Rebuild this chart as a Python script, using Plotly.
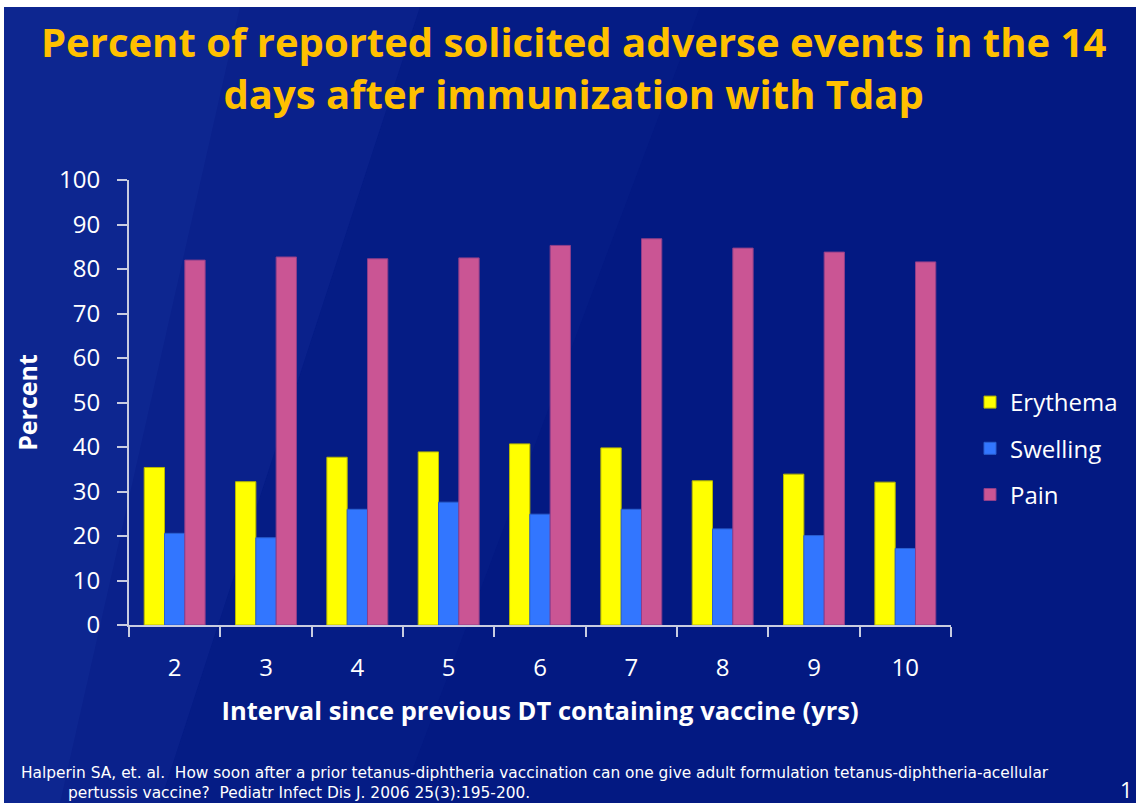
import plotly.graph_objects as go

categories = ["2", "3", "4", "5", "6", "7", "8", "9", "10"]
erythema = [35.4, 32.2, 37.7, 38.9, 40.7, 39.8, 32.4, 33.9, 32.1]
swelling = [20.6, 19.6, 26.0, 27.6, 24.9, 26.0, 21.6, 20.1, 17.2]
pain = [82.0, 82.7, 82.3, 82.5, 85.3, 86.8, 84.7, 83.8, 81.6]

series_names = ["Erythema", "Swelling", "Pain"]
series_colors = ["#FFFF00", "#3276FF", "#CA5594"]
series_lines = ["#B8B800", "#2A5FD0", "#8E3E8A"]
series_values = [erythema, swelling, pain]

W, H = 1136, 803
L, R, T, B = 129, 951, 180, 625

fig = go.Figure()
for i, (name, vals, col, lc) in enumerate(zip(series_names, series_values, series_colors, series_lines)):
    fig.add_trace(go.Bar(
        x=categories, y=vals, name=name,
        marker=dict(color=col, line=dict(color=lc, width=1)),
        legendgroup=name,
    ))

def px(x):
    return (x - L) / (R - L)

def py(y):
    return (B - y) / (B - T)

axis_col = "#C8CCE0"
font_main = "Open Sans"

shapes = [
    dict(type="path", xref="paper", yref="paper",
         path=f"M {px(4)},{py(803)} L {px(4)},{py(7)} L {px(420)},{py(7)} L {px(160)},{py(803)} Z",
         fillcolor="#2a4ab8", opacity=0.18, line=dict(width=0), layer="below"),
    dict(type="path", xref="paper", yref="paper",
         path=f"M {px(4)},{py(803)} L {px(4)},{py(7)} L {px(240)},{py(7)} L {px(60)},{py(803)} Z",
         fillcolor="#2a4ab8", opacity=0.12, line=dict(width=0), layer="below"),
    dict(type="path", xref="paper", yref="paper",
         path=f"M {px(160)},{py(803)} L {px(420)},{py(7)} L {px(700)},{py(7)} L {px(400)},{py(803)} Z",
         fillcolor="#2040b0", opacity=0.08, line=dict(width=0), layer="below"),
    dict(type="rect", xref="paper", yref="paper",
         x0=px(0), x1=px(W), y0=py(7), y1=py(0),
         fillcolor="white", line=dict(width=0), layer="above"),
    dict(type="rect", xref="paper", yref="paper",
         x0=px(0), x1=px(4), y0=py(H), y1=py(0),
         fillcolor="white", line=dict(width=0), layer="above"),
]

annotations = [
    dict(text="<b>Percent of reported solicited adverse events in the 14<br>days after immunization with Tdap</b>",
         xref="paper", yref="paper", x=px(573), y=py(12), xanchor="center", yanchor="top",
         showarrow=False, align="center",
         font=dict(family="Open Sans", size=40, color="#FFC000")),
    dict(text="Halperin SA, et. al.  How soon after a prior tetanus-diphtheria vaccination can one give adult formulation tetanus-diphtheria-acellular",
         xref="paper", yref="paper", x=px(20), y=py(783), xanchor="left", yanchor="bottom",
         showarrow=False, borderpad=0, font=dict(family="DejaVu Sans", size=15.4, color="white")),
    dict(text="pertussis vaccine?  Pediatr Infect Dis J. 2006 25(3):195-200.",
         xref="paper", yref="paper", x=px(67), y=py(783), xanchor="left", yanchor="top",
         showarrow=False, borderpad=0, font=dict(family="DejaVu Sans", size=15.4, color="white")),
    dict(text="1", xref="paper", yref="paper", x=px(1118), y=py(789), xanchor="left", yanchor="middle",
         showarrow=False, font=dict(family=font_main, size=22, color="white")),
]

fig.update_layout(
    width=W, height=H,
    margin=dict(l=L, r=W - R, t=T, b=H - B, pad=0),
    paper_bgcolor="#031982",
    plot_bgcolor="rgba(0,0,0,0)",
    barmode="group",
    bargap=0.333,
    bargroupgap=0,
    font=dict(family=font_main, color="white"),
    legend=dict(
        x=px(970), y=py(380), xanchor="left", yanchor="top",
        font=dict(family=font_main, size=24, color="white"),
        bgcolor="rgba(0,0,0,0)",
        tracegroupgap=12,
        traceorder="grouped",
    ),
    xaxis=dict(
        showgrid=False, showline=True, linecolor=axis_col, linewidth=2,
        ticks="outside", ticklen=10, tickcolor=axis_col, tickwidth=2,
        tickson="boundaries",
        tickfont=dict(family=font_main, size=24, color="white"),
        ticklabelstandoff=20,
        title=dict(text="<b>Interval since previous DT containing vaccine (yrs)</b>",
                   font=dict(family=font_main, size=25.5, color="white"), standoff=20),
    ),
    yaxis=dict(
        range=[0, 100], dtick=10, tick0=0,
        showgrid=False, showline=True, linecolor=axis_col, linewidth=2,
        ticks="outside", ticklen=10, tickcolor=axis_col, tickwidth=2,
        tickfont=dict(family=font_main, size=24, color="white"),
        ticklabelstandoff=12,
        zeroline=False,
        title=dict(text="<b>Percent</b>", font=dict(family=font_main, size=25, color="white"), standoff=14),
    ),
    shapes=shapes,
    annotations=annotations,
)

fig.write_html("out.html", config={"displayModeBar": False},
               post_script="document.body.style.margin='0';document.body.style.overflow='hidden';")
